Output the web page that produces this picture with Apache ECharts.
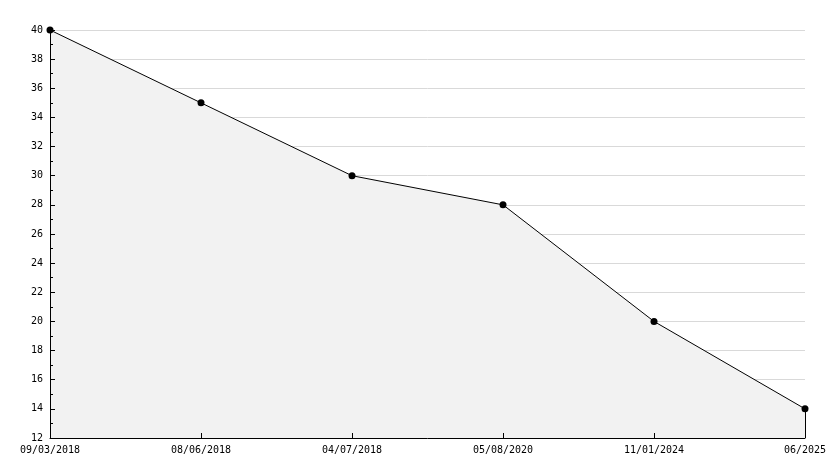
<!DOCTYPE html>
<html><head><meta charset="utf-8">
<script src="https://cdn.jsdelivr.net/npm/echarts@6/dist/echarts.min.js"></script>
<style>html,body{margin:0;padding:0;background:#fff}#c{width:834px;height:468px}</style>
</head><body><div id="c"></div>
<script>
const categories = ["09/03/2018","08/06/2018","04/07/2018","05/08/2020","11/01/2024","06/2025"];
const values = [40, 35, 30, 28, 20, 14];
const yMin = 12, yMax = 40, yStep = 2;

const chart = echarts.init(document.getElementById('c'), null, {renderer:'canvas'});
const font = '"DejaVu Sans Mono", monospace';
const lastCat = categories[categories.length - 1];
const lastVal = values[values.length - 1];
chart.setOption({
  animation: false,
  backgroundColor: '#fff',
  grid: {left: 50, right: 29, top: 30, bottom: 30, containLabel: false},
  xAxis: {
    type: 'category', data: categories, boundaryGap: false, z: 10,
    axisLine: {lineStyle: {color: '#000', width: 1}},
    axisTick: {show: true, inside: true, length: 5, lineStyle: {color: '#000'}, alignWithLabel: true},
    axisLabel: {color: '#000', fontFamily: font, fontSize: 10, margin: 7, interval: 0},
    splitLine: {show: false}
  },
  yAxis: [{
    type: 'value', min: yMin, max: yMax, interval: yStep, z: 0,
    axisLine: {show: false},
    axisTick: {show: false},
    axisLabel: {show: false},
    splitLine: {show: true, lineStyle: {color: '#d9d9d9', width: 1}}
  }, {
    type: 'value', min: yMin, max: yMax, interval: yStep, position: 'left', z: 10,
    axisLine: {show: true, lineStyle: {color: '#000', width: 1}},
    axisTick: {show: true, inside: true, length: 5, lineStyle: {color: '#000'}},
    minorTick: {show: true, splitNumber: 2, length: 3, lineStyle: {color: '#000'}},
    axisLabel: {color: '#000', fontFamily: font, fontSize: 10, margin: 7},
    splitLine: {show: false}
  }],
  series: [{
    type: 'line', data: values, yAxisIndex: 0,
    symbol: 'circle', symbolSize: 7,
    itemStyle: {color: '#000'},
    lineStyle: {color: '#000', width: 1},
    areaStyle: {color: '#f2f2f2', opacity: 1, origin: 'start'},
    markLine: {
      silent: true, symbol: 'none', label: {show: false},
      lineStyle: {color: '#000', width: 1, type: 'solid'},
      data: [[{coord: [lastCat, yMin]}, {coord: [lastCat, lastVal]}]]
    }
  }]
});
</script></body></html>
